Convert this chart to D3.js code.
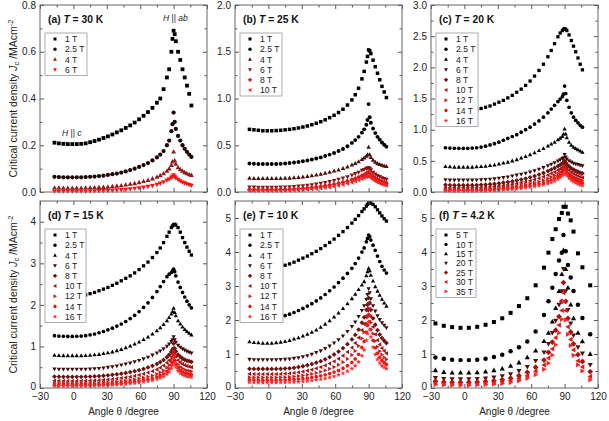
<!DOCTYPE html>
<html><head><meta charset="utf-8">
<script src="https://cdn.jsdelivr.net/npm/d3@7"></script>
<style>body{margin:0;background:#fff}svg{display:block;font-family:Arial,"Liberation Sans",sans-serif}</style>
</head><body><svg id="c" width="609" height="421"></svg>
<script>
// ---------- data ----------
const xTicks = [-30, 0, 30, 60, 90, 120];
const ANG = [-17,-13,-9,-5,-1,3,7,11,15,19,23,27,31,35,39,43,47,51,55,59,63,67,71,75,78,81,84,86,88,89,90,91,92,94,96,98,100,102,104,106];
const ANG_F = [-26,-18.5,-11,-3.5,4,11.5,19,26.5,34,41.5,49,56.5,64,71.5,75.5,79,82,85,87.5,89,91,93,95.5,98,102,106,113];

const fieldsA = ["1 T","2.5 T","4 T","6 T"];
const fieldsB = ["1 T","2.5 T","4 T","6 T","8 T","10 T"];
const fieldsCDE = ["1 T","2.5 T","4 T","6 T","8 T","10 T","12 T","14 T","16 T"];
const fieldsF = ["5 T","10 T","15 T","20 T","25 T","30 T","35 T"];

const a1=[0.211,0.208,0.206,0.205,0.205,0.205,0.206,0.208,0.213,0.218,0.224,0.231,0.238,0.246,0.255,0.264,0.274,0.285,0.297,0.311,0.326,0.342,0.360,0.382,0.400,0.440,0.490,0.525,0.600,0.655,0.690,0.675,0.645,0.600,0.565,0.525,0.490,0.455,0.420,0.370];
const a2=[0.065,0.064,0.063,0.063,0.063,0.063,0.063,0.064,0.065,0.066,0.068,0.070,0.073,0.076,0.079,0.083,0.088,0.094,0.100,0.107,0.115,0.124,0.135,0.148,0.160,0.175,0.200,0.220,0.260,0.290,0.340,0.300,0.270,0.240,0.220,0.200,0.185,0.172,0.160,0.150];
const a3=[0.018,0.018,0.017,0.017,0.017,0.017,0.017,0.018,0.018,0.019,0.020,0.021,0.022,0.024,0.026,0.028,0.031,0.034,0.037,0.041,0.046,0.051,0.057,0.064,0.071,0.079,0.090,0.100,0.115,0.130,0.172,0.135,0.120,0.105,0.097,0.090,0.084,0.079,0.075,0.072];
const a4=[0.003,0.003,0.003,0.003,0.003,0.003,0.003,0.003,0.004,0.004,0.005,0.005,0.006,0.007,0.008,0.009,0.011,0.013,0.015,0.017,0.020,0.023,0.027,0.032,0.037,0.043,0.050,0.055,0.062,0.066,0.072,0.066,0.060,0.053,0.047,0.042,0.038,0.034,0.031,0.028];

const b1=[0.670,0.665,0.660,0.655,0.655,0.655,0.657,0.660,0.665,0.670,0.677,0.685,0.695,0.706,0.720,0.735,0.752,0.772,0.795,0.820,0.850,0.885,0.930,0.985,1.040,1.110,1.210,1.290,1.390,1.450,1.520,1.510,1.480,1.410,1.340,1.270,1.200,1.130,1.070,1.010];
const b2=[0.305,0.302,0.300,0.300,0.300,0.300,0.300,0.302,0.305,0.310,0.315,0.320,0.328,0.337,0.347,0.358,0.370,0.385,0.400,0.418,0.438,0.460,0.490,0.525,0.555,0.590,0.635,0.670,0.720,0.770,0.940,0.800,0.740,0.680,0.630,0.590,0.560,0.530,0.505,0.485];
const b3=[0.148,0.146,0.145,0.145,0.145,0.145,0.145,0.146,0.148,0.150,0.153,0.157,0.162,0.168,0.175,0.183,0.192,0.202,0.213,0.225,0.238,0.253,0.270,0.290,0.307,0.325,0.350,0.365,0.385,0.400,0.480,0.400,0.370,0.340,0.320,0.305,0.295,0.287,0.280,0.275];
const b4=[0.052,0.051,0.050,0.050,0.050,0.050,0.050,0.051,0.053,0.055,0.058,0.062,0.066,0.071,0.077,0.084,0.092,0.101,0.111,0.122,0.134,0.147,0.162,0.180,0.195,0.210,0.230,0.240,0.250,0.255,0.260,0.250,0.235,0.210,0.190,0.175,0.163,0.152,0.143,0.135];
const b5=[0.027,0.026,0.025,0.025,0.025,0.025,0.025,0.026,0.028,0.030,0.032,0.035,0.039,0.043,0.048,0.053,0.059,0.066,0.074,0.083,0.093,0.104,0.116,0.130,0.143,0.157,0.174,0.185,0.197,0.202,0.210,0.200,0.187,0.165,0.148,0.134,0.122,0.112,0.104,0.097];
const b6=[0.014,0.013,0.013,0.013,0.013,0.013,0.013,0.014,0.015,0.016,0.018,0.020,0.023,0.026,0.030,0.034,0.039,0.045,0.052,0.060,0.069,0.079,0.090,0.103,0.115,0.128,0.143,0.153,0.163,0.168,0.175,0.165,0.153,0.133,0.117,0.104,0.093,0.084,0.077,0.070];

const c1=[1.330,1.320,1.310,1.305,1.300,1.300,1.310,1.320,1.340,1.360,1.380,1.410,1.440,1.470,1.510,1.550,1.600,1.650,1.710,1.780,1.860,1.950,2.050,2.170,2.270,2.380,2.490,2.550,2.590,2.610,2.620,2.610,2.590,2.520,2.430,2.340,2.250,2.150,2.050,1.960];
const c2=[0.710,0.705,0.700,0.700,0.700,0.700,0.705,0.710,0.720,0.735,0.755,0.775,0.800,0.830,0.860,0.890,0.920,0.960,1.000,1.040,1.090,1.140,1.200,1.270,1.330,1.390,1.450,1.490,1.530,1.570,1.700,1.580,1.470,1.360,1.270,1.200,1.150,1.110,1.070,1.040];
const c3=[0.410,0.405,0.400,0.400,0.400,0.400,0.400,0.405,0.410,0.415,0.425,0.435,0.450,0.465,0.480,0.500,0.520,0.545,0.570,0.600,0.630,0.665,0.700,0.740,0.770,0.800,0.840,0.865,0.890,0.930,1.010,0.930,0.870,0.800,0.750,0.720,0.700,0.680,0.660,0.640];
const c4=[0.195,0.190,0.190,0.190,0.190,0.190,0.190,0.192,0.195,0.200,0.205,0.210,0.220,0.230,0.240,0.255,0.270,0.285,0.300,0.320,0.340,0.365,0.390,0.420,0.445,0.470,0.495,0.515,0.535,0.550,0.600,0.560,0.530,0.500,0.480,0.460,0.450,0.440,0.430,0.420];
const c5=[0.115,0.112,0.110,0.110,0.110,0.110,0.110,0.112,0.115,0.120,0.125,0.130,0.140,0.150,0.160,0.170,0.185,0.200,0.215,0.235,0.255,0.280,0.305,0.335,0.360,0.385,0.415,0.435,0.460,0.470,0.500,0.470,0.440,0.410,0.380,0.360,0.340,0.325,0.310,0.300];
const c6=[0.075,0.072,0.070,0.070,0.070,0.070,0.070,0.072,0.075,0.080,0.085,0.090,0.097,0.105,0.115,0.125,0.137,0.150,0.165,0.180,0.200,0.220,0.245,0.270,0.295,0.320,0.350,0.370,0.395,0.410,0.440,0.410,0.380,0.350,0.320,0.295,0.275,0.260,0.245,0.230];
const c7=[0.048,0.046,0.045,0.045,0.045,0.045,0.045,0.046,0.048,0.051,0.055,0.060,0.066,0.073,0.080,0.088,0.098,0.110,0.122,0.135,0.150,0.168,0.190,0.215,0.240,0.265,0.295,0.320,0.345,0.365,0.400,0.370,0.340,0.300,0.270,0.245,0.225,0.210,0.195,0.180];
const c8=[0.030,0.029,0.028,0.028,0.028,0.028,0.028,0.029,0.030,0.032,0.035,0.039,0.044,0.050,0.056,0.063,0.071,0.080,0.090,0.102,0.115,0.130,0.148,0.170,0.190,0.215,0.245,0.270,0.300,0.320,0.360,0.330,0.300,0.260,0.230,0.205,0.185,0.170,0.155,0.140];
const c9=[0.017,0.016,0.015,0.015,0.015,0.015,0.015,0.016,0.017,0.019,0.021,0.024,0.028,0.032,0.037,0.043,0.050,0.058,0.067,0.077,0.088,0.100,0.115,0.133,0.152,0.175,0.205,0.230,0.260,0.280,0.320,0.290,0.260,0.220,0.190,0.165,0.145,0.130,0.115,0.100];

const d1=[2.25,2.23,2.22,2.21,2.21,2.21,2.22,2.24,2.27,2.30,2.34,2.38,2.42,2.47,2.52,2.58,2.64,2.70,2.77,2.85,2.94,3.03,3.14,3.26,3.37,3.50,3.65,3.75,3.86,3.90,3.93,3.94,3.92,3.86,3.75,3.62,3.50,3.39,3.29,3.20];
const d2=[1.26,1.25,1.245,1.24,1.24,1.245,1.25,1.26,1.28,1.30,1.33,1.36,1.40,1.44,1.49,1.54,1.60,1.67,1.75,1.84,1.94,2.05,2.18,2.32,2.44,2.56,2.68,2.74,2.78,2.82,2.86,2.80,2.70,2.55,2.42,2.30,2.19,2.09,2.00,1.93];
const d3v=[0.79,0.785,0.78,0.78,0.78,0.78,0.78,0.785,0.79,0.80,0.81,0.83,0.85,0.87,0.90,0.93,0.97,1.01,1.06,1.11,1.17,1.23,1.30,1.38,1.45,1.53,1.62,1.70,1.78,1.84,1.92,1.82,1.74,1.62,1.54,1.47,1.41,1.36,1.32,1.28];
const d4=[0.455,0.45,0.45,0.45,0.45,0.45,0.45,0.452,0.455,0.46,0.47,0.48,0.495,0.51,0.53,0.55,0.575,0.60,0.63,0.66,0.70,0.74,0.79,0.84,0.89,0.94,1.00,1.06,1.12,1.16,1.23,1.16,1.10,1.03,0.98,0.94,0.91,0.88,0.86,0.84];
const d5=[0.275,0.272,0.27,0.27,0.27,0.27,0.27,0.272,0.275,0.28,0.287,0.295,0.305,0.317,0.33,0.345,0.363,0.383,0.405,0.43,0.46,0.495,0.535,0.58,0.625,0.675,0.74,0.80,0.87,0.93,1.07,0.95,0.88,0.80,0.75,0.71,0.68,0.66,0.645,0.63];
const d6=[0.175,0.172,0.17,0.17,0.17,0.17,0.17,0.172,0.175,0.18,0.186,0.193,0.202,0.213,0.225,0.238,0.253,0.27,0.29,0.313,0.34,0.37,0.405,0.445,0.49,0.54,0.61,0.67,0.75,0.82,0.97,0.84,0.76,0.67,0.62,0.58,0.55,0.53,0.515,0.50];
const d7=[0.113,0.111,0.11,0.11,0.11,0.11,0.11,0.111,0.113,0.117,0.122,0.128,0.135,0.143,0.153,0.164,0.177,0.192,0.208,0.227,0.248,0.273,0.30,0.335,0.375,0.42,0.49,0.55,0.64,0.71,0.88,0.74,0.66,0.57,0.51,0.47,0.44,0.42,0.41,0.40];
const d8=[0.073,0.071,0.07,0.07,0.07,0.07,0.07,0.071,0.073,0.076,0.08,0.085,0.091,0.098,0.106,0.115,0.126,0.138,0.152,0.168,0.186,0.207,0.232,0.262,0.295,0.335,0.40,0.46,0.55,0.62,0.80,0.66,0.57,0.48,0.42,0.38,0.355,0.34,0.33,0.32];
const d9=[0.047,0.046,0.045,0.045,0.045,0.045,0.045,0.046,0.047,0.05,0.053,0.057,0.062,0.068,0.075,0.083,0.092,0.102,0.114,0.128,0.144,0.162,0.184,0.21,0.24,0.275,0.335,0.39,0.47,0.55,0.72,0.58,0.50,0.41,0.355,0.32,0.295,0.28,0.27,0.26];

const e1=[3.56,3.54,3.53,3.52,3.52,3.53,3.55,3.58,3.61,3.65,3.70,3.76,3.82,3.88,3.95,4.02,4.10,4.19,4.28,4.38,4.49,4.60,4.72,4.85,4.96,5.07,5.19,5.27,5.35,5.40,5.44,5.45,5.44,5.40,5.33,5.24,5.15,5.06,4.98,4.91];
const e2=[2.08,2.06,2.05,2.04,2.04,2.05,2.07,2.10,2.13,2.17,2.22,2.28,2.34,2.41,2.48,2.56,2.65,2.75,2.86,2.97,3.10,3.23,3.37,3.52,3.66,3.82,4.00,4.12,4.30,4.40,4.50,4.45,4.35,4.20,4.05,3.88,3.72,3.58,3.47,3.38];
const e3=[1.36,1.34,1.33,1.32,1.32,1.32,1.33,1.35,1.37,1.40,1.44,1.48,1.53,1.58,1.64,1.71,1.79,1.88,1.98,2.09,2.21,2.34,2.48,2.63,2.76,2.90,3.03,3.13,3.30,3.42,3.52,3.45,3.32,3.15,2.98,2.85,2.73,2.61,2.50,2.41];
const e4=[0.84,0.83,0.83,0.83,0.83,0.83,0.83,0.835,0.84,0.85,0.87,0.89,0.92,0.95,0.99,1.04,1.09,1.16,1.23,1.32,1.42,1.53,1.66,1.81,1.94,2.10,2.28,2.42,2.60,2.75,2.92,2.80,2.62,2.42,2.26,2.12,2.01,1.92,1.84,1.77];
const e5=[0.565,0.56,0.56,0.56,0.56,0.56,0.56,0.563,0.57,0.58,0.595,0.615,0.64,0.67,0.705,0.745,0.79,0.845,0.91,0.985,1.07,1.17,1.29,1.43,1.56,1.72,1.92,2.08,2.30,2.45,2.65,2.50,2.30,2.05,1.86,1.70,1.57,1.47,1.39,1.32];
const e6=[0.415,0.41,0.41,0.41,0.41,0.41,0.41,0.413,0.42,0.43,0.443,0.46,0.482,0.51,0.54,0.575,0.615,0.665,0.72,0.785,0.86,0.95,1.06,1.19,1.32,1.48,1.70,1.88,2.12,2.28,2.50,2.32,2.10,1.80,1.58,1.41,1.28,1.17,1.09,1.02];
const e7=[0.315,0.31,0.31,0.31,0.31,0.31,0.31,0.313,0.318,0.326,0.337,0.35,0.367,0.388,0.413,0.442,0.476,0.516,0.563,0.618,0.682,0.76,0.855,0.97,1.09,1.24,1.46,1.64,1.90,2.08,2.35,2.15,1.92,1.60,1.38,1.21,1.08,0.98,0.90,0.84];
const e8=[0.235,0.232,0.23,0.23,0.23,0.23,0.23,0.232,0.236,0.242,0.25,0.26,0.273,0.289,0.308,0.33,0.356,0.387,0.423,0.466,0.517,0.58,0.655,0.75,0.855,0.99,1.19,1.37,1.64,1.84,2.15,1.95,1.72,1.40,1.18,1.02,0.90,0.81,0.745,0.69];
const e9=[0.163,0.161,0.16,0.16,0.16,0.16,0.16,0.161,0.164,0.168,0.174,0.182,0.192,0.204,0.219,0.236,0.256,0.28,0.309,0.343,0.384,0.433,0.493,0.57,0.655,0.77,0.95,1.12,1.40,1.60,1.95,1.72,1.50,1.20,0.99,0.84,0.73,0.65,0.605,0.57];

const f1=[1.90,1.83,1.79,1.77,1.77,1.80,1.86,1.94,2.05,2.21,2.41,2.64,3.02,3.54,3.98,4.38,4.67,4.97,5.15,5.33,5.33,5.13,4.93,4.60,3.96,3.55,3.02];
const f2=[0.90,0.86,0.83,0.82,0.82,0.83,0.86,0.91,0.98,1.08,1.20,1.37,1.66,2.15,2.55,2.95,3.35,3.75,3.98,4.50,4.02,3.62,3.25,2.85,2.45,2.06,1.58];
const f3=[0.52,0.47,0.45,0.45,0.45,0.46,0.48,0.52,0.57,0.65,0.75,0.90,1.10,1.38,1.62,1.95,2.35,2.85,3.35,4.05,3.50,2.95,2.45,2.05,1.62,1.37,1.00];
const f4=[0.30,0.27,0.26,0.26,0.26,0.27,0.28,0.31,0.35,0.41,0.50,0.62,0.80,1.05,1.30,1.62,1.98,2.45,2.85,3.50,2.85,2.30,1.90,1.55,1.20,1.02,0.68];
const f5=[0.20,0.18,0.17,0.17,0.17,0.18,0.19,0.21,0.24,0.29,0.36,0.46,0.61,0.82,1.05,1.35,1.70,2.10,2.55,3.10,2.55,2.05,1.65,1.30,0.98,0.78,0.48];
const f6=[0.15,0.13,0.12,0.12,0.12,0.13,0.14,0.16,0.18,0.22,0.28,0.36,0.49,0.68,0.88,1.15,1.48,1.85,2.28,2.80,2.28,1.80,1.43,1.12,0.80,0.62,0.34];
const f7=[0.10,0.09,0.08,0.08,0.08,0.09,0.10,0.11,0.13,0.16,0.21,0.28,0.39,0.55,0.73,0.97,1.27,1.62,2.02,2.55,2.00,1.58,1.25,0.96,0.68,0.50,0.24];

// ---------- styles ----------
const colorsA = ["#000000","#1c0606","#8e1b1b","#ff1010"];
const colorsB = ["#000000","#000000","#4a0e0e","#8b1515","#d41c1c","#ff2020"];
const colorsC = ["#000000","#000000","#000000","#3e0a0a","#6e1010","#a01515","#cc1a1a","#ea1515","#ff2b2b"];
const colorsF = ["#000000","#000000","#000000","#5c0d0d","#a31515","#e01818","#ff2222"];
const shapes9 = ["square","circle","up","down","diamond","left","right","hex","star"];

const panels = [
  {tag:"(a) ", temp:" = 30 K", col:0,row:0, ymax:0.8, ystep:0.2, fmt:".1f", ang:ANG, fields:fieldsA, series:[a1,a2,a3,a4], colors:colorsA, ms:1.9, legW:42},
  {tag:"(b) ", temp:" = 25 K", col:1,row:0, ymax:2.0, ystep:0.5, fmt:".1f", ang:ANG, fields:fieldsB, series:[b1,b2,b3,b4,b5,b6], colors:colorsB, ms:1.75, legW:42},
  {tag:"(c) ", temp:" = 20 K", col:2,row:0, ymax:3.0, ystep:0.5, fmt:".1f", ang:ANG, fields:fieldsCDE, series:[c1,c2,c3,c4,c5,c6,c7,c8,c9], colors:colorsC, ms:1.65, legW:42},
  {tag:"(d) ", temp:" = 15 K", col:0,row:1, ymax:4.5, ystep:1, fmt:"d", ang:ANG, fields:fieldsCDE, series:[d1,d2,d3v,d4,d5,d6,d7,d8,d9], colors:colorsC, ms:1.65, legW:41},
  {tag:"(e) ", temp:" = 10 K", col:1,row:1, ymax:5.5, ystep:1, fmt:"d", ang:ANG, fields:fieldsCDE, series:[e1,e2,e3,e4,e5,e6,e7,e8,e9], colors:colorsC, ms:1.65, legW:43},
  {tag:"(f) ", temp:" = 4.2 K", col:2,row:1, ymax:5.5, ystep:1, fmt:"d", ang:ANG_F, fields:fieldsF, series:[f1,f2,f3,f4,f5,f6,f7], colors:colorsF, ms:2.0, legW:40, legRow:9.4}
];

const COLS=[40,235,431], ROWS=[5,201], PW=167, PH=187;
const svg = d3.select("#c");

function poly(pts){ return "M"+pts.map(p=>p[0].toFixed(2)+","+p[1].toFixed(2)).join("L")+"Z"; }
function symbolPath(shape, r){
  switch(shape){
    case "square": return poly([[-r,-r],[r,-r],[r,r],[-r,r]]);
    case "circle": { const c=r*1.12; return `M${c},0A${c},${c} 0 1,1 ${-c},0A${c},${c} 0 1,1 ${c},0Z`; }
    case "up": return poly([[0,-1.35*r],[1.3*r,0.95*r],[-1.3*r,0.95*r]]);
    case "down": return poly([[0,1.35*r],[1.3*r,-0.95*r],[-1.3*r,-0.95*r]]);
    case "left": return poly([[-1.35*r,0],[0.95*r,-1.3*r],[0.95*r,1.3*r]]);
    case "right": return poly([[1.35*r,0],[-0.95*r,-1.3*r],[-0.95*r,1.3*r]]);
    case "diamond": return poly([[0,-1.45*r],[1.45*r,0],[0,1.45*r],[-1.45*r,0]]);
    case "hex": return poly(d3.range(6).map(k=>[1.2*r*Math.cos(k*Math.PI/3),1.2*r*Math.sin(k*Math.PI/3)]));
    case "star": return poly(d3.range(10).map(k=>{const rr=k%2?0.65*r:1.55*r; const a=-Math.PI/2+k*Math.PI/5; return [rr*Math.cos(a),rr*Math.sin(a)];}));
  }
}

panels.forEach(p=>{
  const x0=COLS[p.col], y0=ROWS[p.row];
  const x=d3.scaleLinear().domain([-30,120]).range([x0,x0+PW]);
  const y=d3.scaleLinear().domain([0,p.ymax]).range([y0+PH,y0]);
  const g=svg.append("g");

  // data
  p.series.forEach((vals,i)=>{
    g.append("g").selectAll("path").data(vals.map((v,j)=>[p.ang[j],v])).join("path")
      .attr("transform",d=>`translate(${x(d[0]).toFixed(2)},${y(d[1]).toFixed(2)})`)
      .attr("d",symbolPath(shapes9[i],p.ms))
      .attr("fill",p.colors[i]);
  });

  // axes (inward ticks on all sides)
  const yMaj=d3.range(0,p.ymax+1e-9,p.ystep);
  const yMin=d3.range(p.ystep/2,p.ymax-1e-9,p.ystep);
  const xMin=[-15,15,45,75,105];
  const fmt=d3.format(p.fmt);
  const ax=(axis,tr)=>{const a=g.append("g").attr("transform",tr).call(axis); a.select(".domain").remove(); a.selectAll("line").attr("stroke","#555"); a.selectAll("text").attr("fill","#222").style("font-size","10px").style("font-family","Arial,'Liberation Sans',sans-serif"); return a;};
  const yl=ax(d3.axisLeft(y).tickValues(yMaj).tickFormat(fmt).tickSize(-4).tickPadding(4),`translate(${x0},0)`);
  if(p.row===1) yl.selectAll("text").filter(d=>d===0).attr("dy","0.12em");
  ax(d3.axisLeft(y).tickValues(yMin).tickFormat("").tickSize(-2.5),`translate(${x0},0)`);
  ax(d3.axisRight(y).tickValues(yMaj).tickFormat("").tickSize(-4),`translate(${x0+PW},0)`);
  ax(d3.axisRight(y).tickValues(yMin).tickFormat("").tickSize(-2.5),`translate(${x0+PW},0)`);
  ax(d3.axisBottom(x).tickValues(xTicks).tickFormat(p.row===1?d3.format("d"):"").tickSize(-4).tickPadding(5),`translate(0,${y0+PH})`);
  ax(d3.axisBottom(x).tickValues(xMin).tickFormat("").tickSize(-2.5),`translate(0,${y0+PH})`);
  ax(d3.axisTop(x).tickValues(xTicks).tickFormat("").tickSize(-4),`translate(0,${y0})`);
  ax(d3.axisTop(x).tickValues(xMin).tickFormat("").tickSize(-2.5),`translate(0,${y0})`);
  g.append("rect").attr("x",x0).attr("y",y0).attr("width",PW).attr("height",PH)
    .attr("fill","none").attr("stroke","#666").attr("stroke-width",1);

  // title
  const t=g.append("text").attr("x",x0+8).attr("y",y0+18).attr("font-size","10.3px").attr("font-weight","bold").attr("fill","#111");
  t.append("tspan").text(p.tag);
  t.append("tspan").attr("font-style","italic").text("T");
  t.append("tspan").text(p.temp);

  // legend
  const rowH=p.legRow||10.2, n=p.fields.length, ly=y0+34;
  g.append("rect").attr("x",x0+5).attr("y",ly-6).attr("width",p.legW).attr("height",(n-1)*rowH+12)
    .attr("fill","#fff").attr("stroke","#999").attr("stroke-width",0.8);
  p.fields.forEach((f,i)=>{
    g.append("path").attr("transform",`translate(${x0+15},${ly+i*rowH})`)
      .attr("d",symbolPath(shapes9[i],1.5)).attr("fill",p.colors[i]);
    g.append("text").attr("x",x0+25).attr("y",ly+i*rowH+3.2).attr("font-size","8.6px").attr("fill","#222").text(f);
  });

  // x title
  if(p.row===1){
    svg.append("text").attr("x",x0+PW/2).attr("y",415).attr("text-anchor","middle")
      .attr("font-size","10px").attr("fill","#222").text("Angle θ /degree");
  }
});

// annotations in (a)
function hText(xp,yp,rest){
  const t=svg.append("text").attr("x",xp).attr("y",yp).attr("font-size","8.5px").attr("fill","#222");
  t.append("tspan").attr("font-style","italic").text("H");
  t.append("tspan").text(" || ");
  t.append("tspan").attr("font-style","italic").text(rest);
}
hText(62,136,"c");
hText(163,21,"ab");

// y-axis titles
[ROWS[0]+PH/2, ROWS[1]+PH/2].forEach(cy=>{
  const t=svg.append("text").attr("transform",`translate(17,${cy}) rotate(-90)`).attr("text-anchor","middle")
    .attr("font-size","10.5px").attr("fill","#222");
  t.append("tspan").text("Critical current density ");
  t.append("tspan").attr("font-style","italic").text("J");
  t.append("tspan").attr("font-size","7.5px").attr("dy","2").text("c");
  t.append("tspan").attr("dy","-2").text(" /MAcm");
  t.append("tspan").attr("font-size","7.5px").attr("dy","-4").text("-2");
});
</script></body></html>
